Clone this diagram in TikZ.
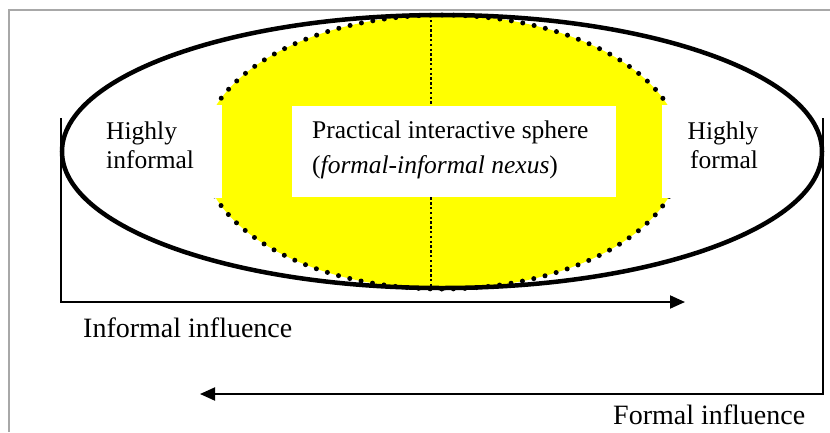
\documentclass[tikz,border=0pt]{standalone}
\usepackage{fontspec}
\setmainfont{Liberation Serif}
\usetikzlibrary{arrows.meta}
\definecolor{sphereyellow}{HTML}{FFFF00}
\definecolor{framegray}{HTML}{A8A8A8}
\begin{document}
\begin{tikzpicture}[x=1pt,y=-1pt,
  lbl/.style={inner sep=0pt, font=\fontsize{25.5}{30}\selectfont},
  biglbl/.style={inner sep=0pt, font=\fontsize{28}{33}\selectfont},
  flow/.style={line width=2pt, -{Triangle[length=15pt,width=13pt]}},
  dotrim/.style={line width=5pt, line cap=round, dash pattern=on 0pt off 11.6pt},
  midline/.style={line width=1.8pt, dash pattern=on 2.4pt off 2.4pt},
  shell/.style={line width=4.5pt}]
\useasboundingbox (0,0) rectangle (830,432);

% outer frame (only the top and left edges fall inside the page)
\draw[framegray, line width=2pt] (9,432) -- (9,10) -- (830,10);

% yellow practical sphere with its dotted rim
\fill[sphereyellow] (442,152) ellipse [x radius=240pt, y radius=137pt];
\draw[midline] (431,15) -- (431,288);
\draw[dotrim] (442,152) ellipse [x radius=240pt, y radius=137pt];

% white label panels
\fill[white] (92,105) rectangle (222,198);
\fill[white] (292,106) rectangle (616,197);
\fill[white] (662,105) rectangle (800,198);

% outer ellipse
\draw[shell] (442,151.5) ellipse [x radius=380pt, y radius=136.5pt];

% labels inside the ellipse
\node[lbl, anchor=base west] (hi1) at (106,139) {Highly};
\node[lbl, anchor=base west] (hi2) at (106,168) {informal};
\node[lbl, anchor=base west] (ps1) at (312,138) {Practical interactive sphere};
\node[lbl, anchor=base west] (ps2) at (312,173) {(\textit{formal-informal nexus})};
\node[lbl, anchor=base] (hf1) at (723,139) {Highly};
\node[lbl, anchor=base] (hf2) at (724,168) {formal};

% influence arrows
\coordinate (infTop) at (61,118);
\coordinate (infCorner) at (61,302);
\coordinate (infEnd) at (685,302);
\coordinate (forTop) at (823,118);
\coordinate (forCorner) at (823,394);
\coordinate (forEnd) at (200,394);
\draw[flow] (infTop) -- (infCorner) -- (infEnd);
\draw[flow] (forTop) -- (forCorner) -- (forEnd);

\node[biglbl, anchor=base west] (infl) at (83,337) {Informal influence};
\node[biglbl, anchor=base west] (fofl) at (613,424) {Formal influence};
\end{tikzpicture}
\end{document}
